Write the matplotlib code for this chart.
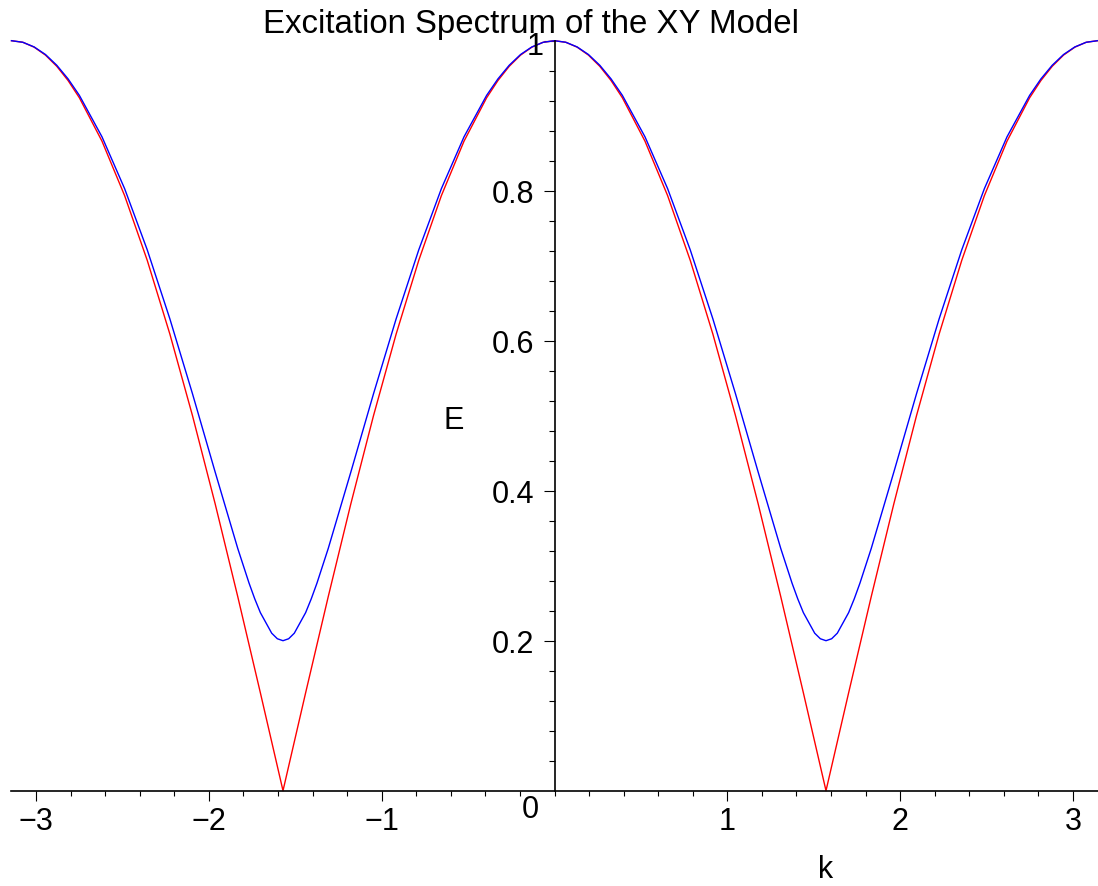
import matplotlib
matplotlib.use("Agg")
import matplotlib.pyplot as plt
from matplotlib.ticker import FixedLocator, NullFormatter

plt.rcParams["font.family"] = ["Liberation Sans", "DejaVu Sans"]

k_red = [-3.1416, -3.0761, -3.0107, -2.9452, -2.8798, -2.8143, -2.7489, -2.6180,
         -2.4871, -2.3562, -2.2253, -2.0944, -1.9635, -1.8326, -1.7017, -1.5708,
         -1.4399, -1.3090, -1.1781, -1.0472, -0.9163, -0.7854, -0.6545, -0.5236,
         -0.3927, -0.3272, -0.2618, -0.1963, -0.1309, -0.0654,
         0.0,
         0.0654, 0.1309, 0.1963, 0.2618, 0.3272, 0.3927, 0.5236, 0.6545,
         0.7854, 0.9163, 1.0472, 1.1781, 1.3090, 1.4399, 1.5708, 1.7017,
         1.8326, 1.9635, 2.0944, 2.2253, 2.3562, 2.4871, 2.6180, 2.7489,
         2.8143, 2.8798, 2.9452, 3.0107, 3.0761, 3.1416]
E_red = [1.0, 0.9979, 0.9914, 0.9808, 0.9659, 0.9469, 0.9239, 0.8660,
         0.7934, 0.7071, 0.6088, 0.5, 0.3827, 0.2588, 0.1305, 0.0,
         0.1305, 0.2588, 0.3827, 0.5, 0.6088, 0.7071, 0.7934, 0.8660,
         0.9239, 0.9469, 0.9659, 0.9808, 0.9914, 0.9979,
         1.0,
         0.9979, 0.9914, 0.9808, 0.9659, 0.9469, 0.9239, 0.8660, 0.7934,
         0.7071, 0.6088, 0.5, 0.3827, 0.2588, 0.1305, 0.0, 0.1305,
         0.2588, 0.3827, 0.5, 0.6088, 0.7071, 0.7934, 0.8660, 0.9239,
         0.9469, 0.9659, 0.9808, 0.9914, 0.9979, 1.0]

k_blue = [-3.1416, -3.0761, -3.0107, -2.9452, -2.8798, -2.8143, -2.7489, -2.6180,
          -2.4871, -2.3562, -2.2253, -2.0944, -1.9635, -1.8326, -1.7671, -1.7344,
          -1.7017, -1.6362, -1.6035, -1.5708, -1.5381, -1.5054, -1.4399, -1.4072,
          -1.3744, -1.3090, -1.1781,
          -1.0472, -0.9163, -0.7854, -0.6545, -0.5236, -0.3927, -0.3272, -0.2618,
          -0.1963, -0.1309, -0.0654,
          0.0,
          0.0654, 0.1309, 0.1963, 0.2618, 0.3272, 0.3927, 0.5236, 0.6545,
          0.7854, 0.9163, 1.0472,
          1.1781, 1.3090, 1.3744, 1.4072, 1.4399, 1.5054, 1.5381, 1.5708,
          1.6035, 1.6362, 1.7017, 1.7344, 1.7671, 1.8326, 1.9635, 2.0944,
          2.2253, 2.3562, 2.4871, 2.6180, 2.7489, 2.8143, 2.8798, 2.9452,
          3.0107, 3.0761, 3.1416]
E_blue = [1.0, 0.9979, 0.9917, 0.9816, 0.9673, 0.9491, 0.9271, 0.8718,
          0.8027, 0.7211, 0.6291, 0.5292, 0.4250, 0.3230, 0.2767, 0.2559,
          0.2374, 0.2100, 0.2026, 0.2, 0.2026, 0.2100, 0.2374, 0.2559,
          0.2767, 0.3230, 0.4250,
          0.5292, 0.6291, 0.7211, 0.8027, 0.8718, 0.9271, 0.9491, 0.9673,
          0.9816, 0.9917, 0.9979,
          1.0,
          0.9979, 0.9917, 0.9816, 0.9673, 0.9491, 0.9271, 0.8718, 0.8027,
          0.7211, 0.6291, 0.5292,
          0.4250, 0.3230, 0.2767, 0.2559, 0.2374, 0.2100, 0.2026, 0.2,
          0.2026, 0.2100, 0.2374, 0.2559, 0.2767, 0.3230, 0.4250, 0.5292,
          0.6291, 0.7211, 0.8027, 0.8718, 0.9271, 0.9491, 0.9673, 0.9816,
          0.9917, 0.9979, 1.0]

x_ticks = [-3, -2, -1, 1, 2, 3]
x_minor = [-3.0 + 0.2 * i for i in range(31)]
y_ticks = [0.2, 0.4, 0.6, 0.8, 1.0]
y_tick_labels = ["0.2", "0.4", "0.6", "0.8", ""]
y_minor = [0.04 * i for i in range(1, 26)]

title = "Excitation Spectrum of the XY Model"
fs = 22

# FIGURE

fig = plt.figure(figsize=(10.98, 8.87), dpi=100)
W, H = 1098, 887
ax = fig.add_axes([11.5 / W, 1 - 791.7 / H, 1086 / W, 750 / H])

ax.plot(k_red, E_red, color="red", lw=1.0, clip_on=False)
ax.plot(k_blue, E_blue, color="blue", lw=1.0, clip_on=False)

ax.set_xlim(-3.1416, 3.1416)
ax.set_ylim(0, 1)

for s in ["top", "right"]:
    ax.spines[s].set_visible(False)
ax.spines["left"].set_position(("data", 0))
ax.spines["bottom"].set_position(("data", 0))
ax.spines["left"].set_linewidth(1.2)
ax.spines["bottom"].set_linewidth(1.2)

ax.set_xticks(x_ticks)
ax.set_xticklabels([str(t).replace("-", "\u2212") for t in x_ticks], fontsize=fs)
ax.xaxis.set_minor_locator(FixedLocator(x_minor))
ax.set_yticks(y_ticks)
ax.set_yticklabels(y_tick_labels, fontsize=fs)
ax.yaxis.set_minor_locator(FixedLocator(y_minor))
ax.yaxis.set_minor_formatter(NullFormatter())

ax.tick_params(axis="x", which="major", direction="out", length=7.2, width=0.8, pad=4)
ax.tick_params(axis="x", which="minor", direction="out", length=3.6, width=0.8)
ax.tick_params(axis="y", which="major", direction="out", length=8, width=0.8, pad=6.5)
ax.tick_params(axis="y", which="minor", direction="out", length=4.3, width=0.8)

# origin label, top y label, axis names and title placed like the original
fig.text(530 / W, 1 - 818 / H, "0", fontsize=fs, ha="center", va="baseline")
fig.text(535 / W, 1 - 55 / H, "1", fontsize=fs, ha="center", va="baseline")
fig.text(454 / W, 1 - 429 / H, "E", fontsize=fs, ha="center", va="baseline")
fig.text(826 / W, 1 - 878 / H, "k", fontsize=fs, ha="center", va="baseline")
fig.text(531 / W, 1 - 33 / H, title, fontsize=23.8, ha="center", va="baseline")

fig.savefig("out.png", dpi=100)
